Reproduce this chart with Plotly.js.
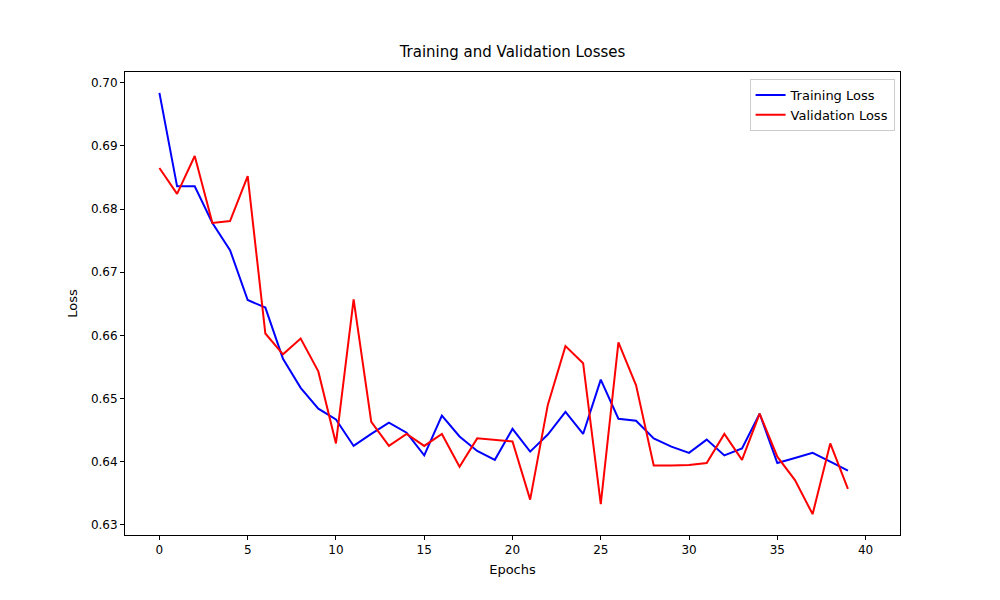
<!DOCTYPE html>
<html>
<head>
<meta charset="utf-8">
<script src="https://cdn.plot.ly/plotly-3.0.1.min.js"></script>
<style>body{margin:0;background:#fff}#chart{width:1000px;height:600px}</style>
</head>
<body>
<div id="chart"></div>
<script>
const epochs = Array.from({length: 40}, (_, i) => i);
const trainingLoss = [0.6984, 0.6836, 0.6836, 0.6778, 0.6735, 0.6656, 0.6644, 0.6563, 0.6517, 0.6484,
    0.6467, 0.6425, 0.6444, 0.6462, 0.6446, 0.6410, 0.6473, 0.6440, 0.6417, 0.6403,
    0.6452, 0.6416, 0.6443, 0.6479, 0.6444, 0.6530, 0.6468, 0.6465, 0.6437, 0.6424,
    0.6414, 0.6435, 0.6410, 0.6421, 0.6476, 0.6398, 0.6406, 0.6414, 0.6400, 0.6386];
const validationLoss = [0.6865, 0.6824, 0.6884, 0.6778, 0.6781, 0.6852, 0.6603, 0.6570, 0.6595, 0.6543,
    0.6429, 0.6657, 0.6463, 0.6425, 0.6444, 0.6425, 0.6444, 0.6392, 0.6437, 0.6435,
    0.6432, 0.6340, 0.6490, 0.6583, 0.6556, 0.6333, 0.6589, 0.6521, 0.6394, 0.6394,
    0.6395, 0.6398, 0.6444, 0.6403, 0.6476, 0.6408, 0.6371, 0.6317, 0.6429, 0.6357];

const data = [
    {x: epochs, y: trainingLoss, name: 'Training Loss', type: 'scatter', mode: 'lines',
     line: {color: '#0000ff', width: 2}},
    {x: epochs, y: validationLoss, name: 'Validation Loss', type: 'scatter', mode: 'lines',
     line: {color: '#ff0000', width: 2}}
];

const axisStyle = {
    showgrid: false, zeroline: false, showline: true, mirror: true,
    linecolor: '#000', linewidth: 1, ticks: 'outside', ticklen: 4, tickcolor: '#000',
    tickfont: {size: 12, color: '#000'}
};

const layout = {
    width: 1000, height: 600,
    paper_bgcolor: '#fff', plot_bgcolor: '#fff',
    font: {family: 'DejaVu Sans', color: '#000'},
    margin: {l: 125, r: 100, t: 72, b: 65},
    title: {text: 'Training and Validation Losses', font: {size: 15}, x: 0.5125, xanchor: 'center', y: 0.905, yanchor: 'bottom'},
    xaxis: {...axisStyle, range: [-1.95, 41.95], tickvals: [0, 5, 10, 15, 20, 25, 30, 35, 40],
        title: {text: 'Epochs', font: {size: 13}, standoff: 8}},
    yaxis: {...axisStyle, range: [0.6284, 0.7017], tickvals: [0.63, 0.64, 0.65, 0.66, 0.67, 0.68, 0.69, 0.70],
        tickformat: '.2f', title: {text: 'Loss', font: {size: 13}, standoff: 10}},
    showlegend: true,
    legend: {x: 0.993, xanchor: 'right', y: 0.985, yanchor: 'top', bgcolor: 'rgba(255,255,255,0.8)',
        bordercolor: '#ccc', borderwidth: 1, font: {size: 13}}
};

Plotly.newPlot('chart', data, layout, {displayModeBar: false});
</script>
</body>
</html>
